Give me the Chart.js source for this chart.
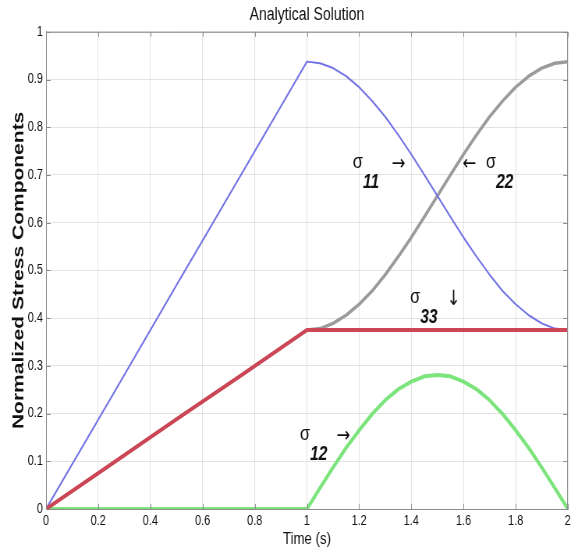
<!DOCTYPE html>
<html>
<head>
<meta charset="utf-8">
<title>Analytical Solution</title>
<script src="https://cdn.jsdelivr.net/npm/chart.js@4"></script>
<style>
  html, body { margin: 0; padding: 0; background: #fff; }
  #wrap { width: 574px; height: 555px; overflow: hidden; }
  /* the source figure is squeezed horizontally, so draw wide and squeeze */
  #stressChart { transform: scaleX(0.78); transform-origin: 0 0; }
</style>
</head>
<body>
<div id="wrap"><canvas id="stressChart" width="736" height="555"></canvas></div>
<script>
// time axis (s) and the four normalized stress components
const time = [0, 0.25, 0.5, 0.75, 1,
  1.05, 1.1, 1.15, 1.2, 1.25, 1.3, 1.35, 1.4, 1.45, 1.5,
  1.55, 1.6, 1.65, 1.7, 1.75, 1.8, 1.85, 1.9, 1.95, 2];
const sigma11 = [0, 0.234, 0.469, 0.703, 0.9375,
  0.934, 0.924, 0.907, 0.884, 0.855, 0.822, 0.784, 0.743, 0.700, 0.656,
  0.612, 0.569, 0.529, 0.491, 0.457, 0.429, 0.406, 0.389, 0.378, 0.375];
const sigma22 = [0, 0.094, 0.188, 0.281, 0.375,
  0.378, 0.389, 0.406, 0.429, 0.457, 0.491, 0.529, 0.569, 0.612, 0.656,
  0.700, 0.743, 0.784, 0.822, 0.855, 0.884, 0.907, 0.924, 0.934, 0.9375];
const sigma33 = [0, 0.094, 0.188, 0.281, 0.375,
  0.375, 0.375, 0.375, 0.375, 0.375, 0.375, 0.375, 0.375, 0.375, 0.375,
  0.375, 0.375, 0.375, 0.375, 0.375, 0.375, 0.375, 0.375, 0.375, 0.375];
const sigma12 = [0, 0, 0, 0, 0,
  0.044, 0.087, 0.128, 0.165, 0.199, 0.228, 0.251, 0.267, 0.278, 0.281,
  0.278, 0.267, 0.251, 0.228, 0.199, 0.165, 0.128, 0.087, 0.044, 0];

const xTicks = [0, 0.2, 0.4, 0.6, 0.8, 1, 1.2, 1.4, 1.6, 1.8, 2];
const yTicks = [0, 0.1, 0.2, 0.3, 0.4, 0.5, 0.6, 0.7, 0.8, 0.9, 1];

// in-plot labels: sigma with subscript and an arrow pointing at its curve
const curveLabels = [
  { sub: '11', arrow: '\u2192', x: 1.176, y: 0.715, arrowDx: 50 },
  { sub: '22', arrow: '\u2190', x: 1.686, y: 0.715, arrowDx: -30 },
  { sub: '33', arrow: '\u2193', x: 1.395, y: 0.432, arrowDx: 47 },
  { sub: '12', arrow: '\u2192', x: 0.973, y: 0.145, arrowDx: 47 }
];

const sans = "'Liberation Sans', Arial, sans-serif";

function pts(vals) {
  return time.map((t, i) => ({ x: t, y: vals[i] }));
}

function tickText(v) {
  return String(Number(v.toFixed(1)));
}

// top/right box lines and MATLAB style inward tick marks
const framePlugin = {
  id: 'frame',
  afterDraw(chart) {
    const { ctx, chartArea: a, scales } = chart;
    ctx.save();
    ctx.strokeStyle = '#8c8c8c';
    ctx.lineWidth = 1;
    ctx.beginPath();
    ctx.moveTo(a.left, a.top + 0.5);
    ctx.lineTo(a.right, a.top + 0.5);
    ctx.moveTo(a.right - 0.5, a.top);
    ctx.lineTo(a.right - 0.5, a.bottom);
    xTicks.forEach(v => {
      const px = Math.round(scales.x.getPixelForValue(v)) + 0.5;
      ctx.moveTo(px, a.bottom); ctx.lineTo(px, a.bottom - 5);
      ctx.moveTo(px, a.top); ctx.lineTo(px, a.top + 5);
    });
    yTicks.forEach(v => {
      const py = Math.round(scales.y.getPixelForValue(v)) + 0.5;
      ctx.moveTo(a.left, py); ctx.lineTo(a.left + 6, py);
      ctx.moveTo(a.right, py); ctx.lineTo(a.right - 6, py);
    });
    ctx.stroke();
    ctx.restore();
  }
};

const labelPlugin = {
  id: 'curveLabels',
  afterDatasetsDraw(chart) {
    const { ctx, scales } = chart;
    ctx.save();
    ctx.fillStyle = '#111';
    ctx.textBaseline = 'alphabetic';
    ctx.textAlign = 'left';
    curveLabels.forEach(l => {
      const px = scales.x.getPixelForValue(l.x);
      const py = scales.y.getPixelForValue(l.y);
      ctx.font = '21px ' + sans;
      ctx.fillText('\u03c3', px, py);
      ctx.font = 'italic bold 20px ' + sans;
      ctx.fillText(l.sub, px + 13, py + 20);
      ctx.font = "21px 'DejaVu Sans', sans-serif";
      ctx.fillText(l.arrow, px + l.arrowDx, py + 2);
    });
    ctx.restore();
  }
};

const ctx = document.getElementById('stressChart').getContext('2d');

new Chart(ctx, {
  type: 'line',
  data: {
    datasets: [
      { label: '\u03c333', data: pts(sigma33), borderColor: 'rgb(205, 70, 85)', borderWidth: 4, order: 1 },
      { label: '\u03c312', data: pts(sigma12), borderColor: 'rgb(125, 228, 125)', borderWidth: 4, order: 2 },
      { label: '\u03c311', data: pts(sigma11), borderColor: 'rgb(115, 115, 230)', borderWidth: 2, order: 3 },
      { label: '\u03c322', data: pts(sigma22), borderColor: 'rgb(155, 155, 155)', borderWidth: 3.5, order: 4 }
    ]
  },
  options: {
    responsive: false,
    animation: false,
    elements: {
      point: { radius: 0 },
      line: { tension: 0, borderCapStyle: 'round', borderJoinStyle: 'round' }
    },
    layout: { padding: { left: 0, right: 8, top: 0, bottom: 0 } },
    plugins: {
      legend: { display: false },
      tooltip: { enabled: false },
      title: {
        display: true,
        text: 'Analytical Solution',
        fullSize: false,
        color: '#111',
        font: { family: sans, size: 18, weight: 'normal', lineHeight: 1.1 },
        padding: { top: 5, bottom: 7 }
      }
    },
    scales: {
      x: {
        type: 'linear',
        min: 0,
        max: 2,
        afterFit(scale) { scale.height = 46; },
        afterBuildTicks(scale) { scale.ticks = xTicks.map(v => ({ value: v })); },
        ticks: {
          color: '#111',
          font: { family: sans, size: 14 },
          padding: 4,
          maxRotation: 0,
          callback: v => tickText(v)
        },
        grid: { color: '#e2e2e2', drawTicks: false },
        border: { color: '#8c8c8c' },
        title: {
          display: true,
          text: 'Time (s)',
          color: '#111',
          font: { family: sans, size: 17 },
          padding: { top: 0, bottom: 5 }
        }
      },
      y: {
        type: 'linear',
        min: 0,
        max: 1,
        afterFit(scale) { scale.width = 59; },
        afterBuildTicks(scale) { scale.ticks = yTicks.map(v => ({ value: v })); },
        ticks: {
          color: '#111',
          font: { family: sans, size: 14 },
          padding: 4,
          callback: v => tickText(v)
        },
        grid: { color: '#e2e2e2', drawTicks: false },
        border: { color: '#8c8c8c' },
        title: {
          display: true,
          text: 'Normalized Stress Components',
          color: '#111',
          font: { family: sans, size: 21, weight: 'bold' },
          padding: { top: 12, bottom: 0 }
        }
      }
    }
  },
  plugins: [framePlugin, labelPlugin]
});
</script>
</body>
</html>
